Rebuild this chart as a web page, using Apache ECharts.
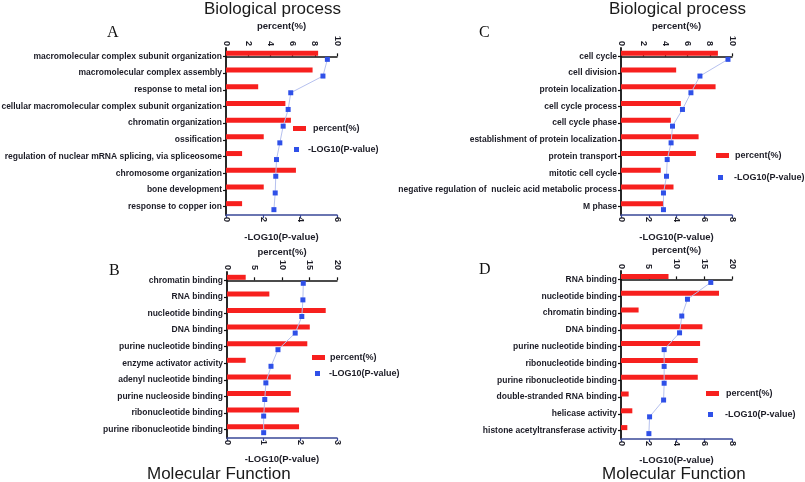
<!DOCTYPE html>
<html><head><meta charset="utf-8">
<script src="https://cdn.jsdelivr.net/npm/echarts@6/dist/echarts.min.js"></script>
<style>html,body{margin:0;padding:0;background:#fff}#c{width:805px;height:482px}</style>
</head><body><div id="c"></div>
<script>
// ---- data ----
const catA = ['macromolecular complex subunit organization','macromolecular complex assembly','response to metal ion','cellular macromolecular complex subunit organization','chromatin organization','ossification','regulation of nuclear mRNA splicing, via spliceosome','chromosome organization','bone development','response to copper ion'];
const pctA = [8.3, 7.8, 2.9, 5.35, 5.85, 3.4, 1.45, 6.3, 3.4, 1.45];
const logA = [5.48, 5.24, 3.5, 3.36, 3.09, 2.91, 2.73, 2.69, 2.66, 2.59];

const catB = ['chromatin binding','RNA binding','nucleotide binding','DNA binding','purine nucleotide binding','enzyme activator activity','adenyl nucleotide binding','purine nucleoside binding','ribonucleotide binding','purine ribonucleotide binding'];
const pctB = [3.4, 7.7, 17.95, 15.05, 14.6, 3.4, 11.6, 11.6, 13.1, 13.1];
const logB = [2.08, 2.07, 2.04, 1.86, 1.39, 1.2, 1.06, 1.03, 1.0, 1.0];

const catC = ['cell cycle','cell division','protein localization','cell cycle process','cell cycle phase','establishment of protein localization','protein transport','mitotic cell cycle','negative regulation of  nucleic acid metabolic process','M phase'];
const pctC = [8.73, 4.97, 8.52, 5.39, 4.49, 6.99, 6.75, 3.58, 4.73, 3.83];
const logC = [7.71, 5.69, 5.04, 4.43, 3.71, 3.61, 3.33, 3.28, 3.06, 3.06];

const catD = ['RNA binding','nucleotide binding','chromatin binding','DNA binding','purine nucleotide binding','ribonucleotide binding','purine ribonucleotide binding','double-stranded RNA binding','helicase activity','histone acetyltransferase activity'];
const pctD = [8.56, 17.66, 3.17, 14.67, 14.25, 13.83, 13.83, 1.38, 2.04, 1.14];
const logD = [6.47, 4.79, 4.38, 4.22, 3.11, 3.11, 3.11, 3.07, 2.06, 2.01];

// axis ranges [max, interval]
const pctAxis = {A: [10, 2], B: [20, 5], C: [10, 2], D: [20, 5]};
const logAxis = {A: [6, 2], B: [3, 1], C: [8, 2], D: [8, 2]};

const TITLE_BP = 'Biological process';
const TITLE_MF = 'Molecular Function';
const NAME_PCT = 'percent(%)';
const NAME_LOG = '-LOG10(P-value)';

// ---- layout ----
const RED = '#f7201e', BLUE = '#2f50e8', LINE = '#b6c1ef', TXT = '#1c1c26';
const FONT = 'Liberation Sans, Arial, sans-serif';

const panels = [
  {key:'A', cat:catA, pct:pctA, log:logA, grid:{left:226, top:48, width:111, height:167}, gapTop:16.5, gapBot:17.5,
   leg:[[293,130],[294,151]], legTextPad:[2,4]},
  {key:'B', cat:catB, pct:pctB, log:logB, grid:{left:227, top:272, width:110, height:166}, gapTop:14.5, gapBot:16.5,
   leg:[[312,359],[315,375]], legTextPad:[0,4]},
  {key:'C', cat:catC, pct:pctC, log:logC, grid:{left:621, top:48, width:111, height:167}, gapTop:16.5, gapBot:17.5,
   leg:[[716,157],[718,179]], legTextPad:[1,6]},
  {key:'D', cat:catD, pct:pctD, log:logD, grid:{left:621, top:271, width:111, height:168}, gapTop:15.5, gapBot:16,
   leg:[[706,395],[708,416]], legTextPad:[2,7]}
];

const grid = [], xAxis = [], yAxis = [], series = [], legend = [];
panels.forEach((p, i) => {
  grid.push(Object.assign({outerBoundsMode:'none', containLabel:false}, p.grid));
  const lbl = {fontSize:9, fontWeight:'bold', color:TXT, fontFamily:FONT, rotate:-90, margin:2};
  const nameStyle = {fontSize:9.5, fontWeight:'bold', color:TXT, fontFamily:FONT};
  xAxis.push({gridIndex:i, type:'value', position:'top', min:0, max:pctAxis[p.key][0], interval:pctAxis[p.key][1],
    name:NAME_PCT, nameLocation:'middle', nameGap:p.gapTop, nameMoveOverlap:false, nameTextStyle:nameStyle,
    axisLine:{show:true, lineStyle:{color:'#111', width:1.5}},
    axisTick:{show:true, length:3, lineStyle:{color:'#111', width:1.2}},
    axisLabel:lbl, splitLine:{show:false}});
  xAxis.push({gridIndex:i, type:'value', position:'bottom', min:0, max:logAxis[p.key][0], interval:logAxis[p.key][1],
    name:NAME_LOG, nameLocation:'middle', nameGap:p.gapBot, nameMoveOverlap:false, nameTextStyle:nameStyle,
    axisLine:{show:true, lineStyle:{color:'#3a4898', width:1.5}},
    axisTick:{show:true, length:3, lineStyle:{color:'#3a4898', width:1.2}},
    axisLabel:lbl, splitLine:{show:false}});
  yAxis.push({gridIndex:i, type:'category', inverse:true, data:p.cat,
    axisLine:{show:true, lineStyle:{color:'#111', width:1.8}},
    axisTick:{show:true, length:3, alignWithLabel:true, lineStyle:{color:'#111', width:1.2}},
    axisLabel:{fontSize:8.5, fontWeight:'bold', color:TXT, fontFamily:FONT, margin:4}});
  yAxis.push({gridIndex:i, type:'value', show:false, min:-0.5, max:9.5, inverse:true});
  series.push({type:'bar', name:NAME_PCT, xAxisIndex:2*i, yAxisIndex:2*i, data:p.pct, barWidth:5, barGap:'20%',
    itemStyle:{color:RED}, silent:true, animation:false});
  series.push({type:'bar', name:'pad', xAxisIndex:2*i, yAxisIndex:2*i, data:p.pct.map(() => '-'), barWidth:5,
    silent:true, animation:false});
  series.push({type:'line', name:NAME_LOG, xAxisIndex:2*i+1, yAxisIndex:2*i+1,
    data:p.log.map((v, k) => [v, k + 0.18]), symbol:'rect', symbolSize:5,
    lineStyle:{color:LINE, width:1}, itemStyle:{color:BLUE}, silent:true, animation:false, z:3});
  const legText = pad => ({fontSize:9, fontWeight:'bold', color:TXT, fontFamily:FONT, padding:[0,0,0,pad]});
  legend.push({data:[{name:NAME_PCT, icon:'rect'}], left:p.leg[0][0], top:p.leg[0][1] - 6, itemWidth:13, itemHeight:5,
    padding:0, selectedMode:false, textStyle:legText(p.legTextPad[0])});
  legend.push({data:[{name:NAME_LOG, icon:'rect'}], left:p.leg[1][0], top:p.leg[1][1] - 6, itemWidth:5, itemHeight:5,
    padding:0, selectedMode:false, textStyle:legText(p.legTextPad[1])});
});

const titleStyle = {fontSize:17, fontWeight:'normal', color:'#1a1a1a', fontFamily:FONT};
const letterStyle = {fontSize:16, fontWeight:'normal', color:'#111', fontFamily:'Liberation Serif, Times New Roman, serif'};
const title = [
  {text:TITLE_BP, left:204, top:1, padding:0, textStyle:titleStyle},
  {text:TITLE_BP, left:609, top:1, padding:0, textStyle:titleStyle},
  {text:TITLE_MF, left:147, top:466, padding:0, textStyle:titleStyle},
  {text:TITLE_MF, left:602, top:466, padding:0, textStyle:titleStyle},
  {text:'A', left:107, top:25, padding:0, textStyle:letterStyle},
  {text:'C', left:479, top:25, padding:0, textStyle:letterStyle},
  {text:'B', left:109, top:263, padding:0, textStyle:letterStyle},
  {text:'D', left:479, top:262, padding:0, textStyle:letterStyle}
];

const chart = echarts.init(document.getElementById('c'), null, {renderer:'canvas'});
chart.setOption({backgroundColor:'#fff', animation:false, title, grid, xAxis, yAxis, series, legend, tooltip:{show:false}});
</script>
</body></html>
